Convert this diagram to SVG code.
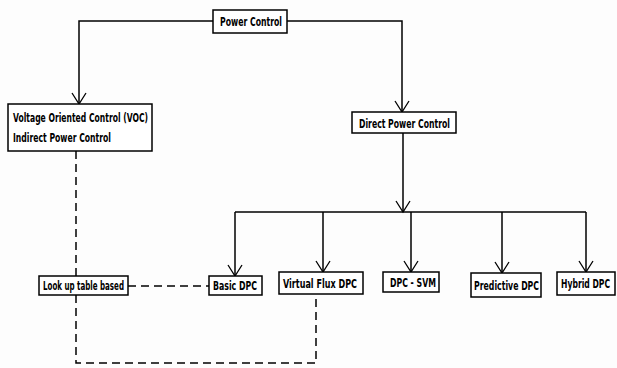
<svg xmlns="http://www.w3.org/2000/svg" width="617" height="368" viewBox="0 0 617 368">
<defs>
<style>
.box{fill:#fff;stroke:#000;stroke-width:1.5}
.t{font-family:"DejaVu Sans Condensed","DejaVu Sans","Liberation Sans",sans-serif;font-size:13px;font-weight:bold;fill:#000}
.ln{fill:none;stroke:#000;stroke-width:1.5}
.ah{fill:none;stroke:#000;stroke-width:1.3}
.ds{fill:none;stroke:#000;stroke-width:1.5;stroke-dasharray:8,5}
</style>
</defs>
<rect width="617" height="368" fill="#fdfdfd"/>
<g id="connectors">
<path class="ln" d="M213,21 H79 V104"/>
<path class="ln" d="M287,21 H402 V112"/>
<path class="ln" d="M403,133 V212"/>
<path class="ln" d="M235,212 H586"/>
<path class="ln" d="M235,212 V276"/>
<path class="ln" d="M323,212 V272"/>
<path class="ln" d="M411,212 V272"/>
<path class="ln" d="M502,212 V273"/>
<path class="ln" d="M586,212 V272"/>
<path class="ah" d="M72,93 L79,104 L86,93"/>
<path class="ah" d="M395,101 L402,112 L409,101"/>
<path class="ah" d="M396,201 L403,212 L410,201"/>
<path class="ah" d="M228,265 L235,276 L242,265"/>
<path class="ah" d="M316,261 L323,272 L330,261"/>
<path class="ah" d="M404,261 L411,272 L418,261"/>
<path class="ah" d="M495,262 L502,273 L509,262"/>
<path class="ah" d="M579,261 L586,272 L593,261"/>
<path class="ds" d="M76,151 V276"/>
<path class="ds" d="M76,295 V363 H316 V294"/>
<path class="ds" d="M128,286 H209"/>
</g>
<g id="power-control">
<rect class="box" x="213" y="10" width="74" height="23"/>
<text class="t" transform="translate(220,26) scale(0.7,1)" textLength="88.6" lengthAdjust="spacingAndGlyphs">Power Control</text>
</g>
<g id="voc">
<rect class="box" x="8" y="104" width="144" height="47"/>
<text class="t" transform="translate(13,122) scale(0.7,1)" textLength="192.9" lengthAdjust="spacingAndGlyphs">Voltage Oriented Control (VOC)</text>
<text class="t" transform="translate(13,142) scale(0.7,1)" textLength="140" lengthAdjust="spacingAndGlyphs">Indirect Power Control</text>
</g>
<g id="dpc">
<rect class="box" x="352" y="112" width="104" height="21"/>
<text class="t" transform="translate(359,128) scale(0.7,1)" textLength="130" lengthAdjust="spacingAndGlyphs">Direct Power Control</text>
</g>
<g id="lookup">
<rect class="box" x="39" y="276" width="89" height="19"/>
<text class="t" transform="translate(43,290) scale(0.7,1)" textLength="115.7" lengthAdjust="spacingAndGlyphs">Look up table based</text>
</g>
<g id="basic-dpc">
<rect class="box" x="209" y="276" width="53" height="19"/>
<text class="t" transform="translate(213,290) scale(0.7,1)" textLength="62.9" lengthAdjust="spacingAndGlyphs">Basic DPC</text>
</g>
<g id="virtual-flux-dpc">
<rect class="box" x="279" y="272" width="84" height="22"/>
<text class="t" transform="translate(283,288) scale(0.7,1)" textLength="105.7" lengthAdjust="spacingAndGlyphs">Virtual Flux DPC</text>
</g>
<g id="dpc-svm">
<rect class="box" x="383" y="272" width="56" height="20"/>
<text class="t" transform="translate(390,287) scale(0.7,1)" textLength="65.7" lengthAdjust="spacingAndGlyphs">DPC - SVM</text>
</g>
<g id="predictive-dpc">
<rect class="box" x="471" y="273" width="70" height="24"/>
<text class="t" transform="translate(474,290) scale(0.7,1)" textLength="92.9" lengthAdjust="spacingAndGlyphs">Predictive DPC</text>
</g>
<g id="hybrid-dpc">
<rect class="box" x="557" y="272" width="58" height="23"/>
<text class="t" transform="translate(561,288) scale(0.7,1)" textLength="70" lengthAdjust="spacingAndGlyphs">Hybrid DPC</text>
</g>
</svg>
